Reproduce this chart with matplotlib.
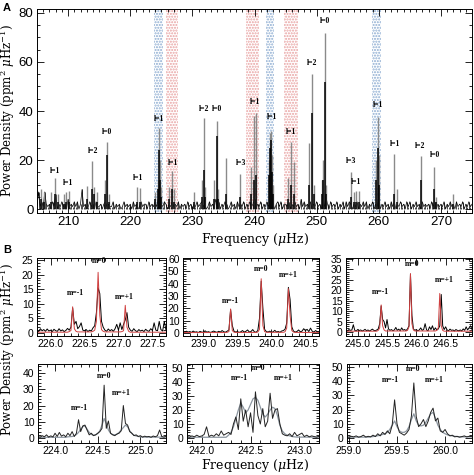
'''oscillation power spectrum with rotational splittings'''
import numpy as np
import matplotlib
matplotlib.use('Agg')
import matplotlib.pyplot as plt
from matplotlib.ticker import MultipleLocator, FormatStrFormatter

plt.rcParams['mathtext.fontset'] = 'dejavuserif'
plt.rcParams['font.family'] = 'Liberation Sans'

#%% data panel A
# noise floor, 0.25 muHz sampling, 205-275 muHz
noise_a = [int(c) for c in (
    "1713172120316021312041213130281201312031"
    "1202312113021201312120312013122031213142"
    "2132021312130212031202131231201312041302"
    "1320131203121302131240213021313120231302"
    "2130213120413121302131203152031213021303"
    "1320213021313021302150213120313021312031"
    "30213120312120313021213021312031213021312")]

peak_f = [205.6, 206.1, 207.3, 207.9, 208.3, 209.3, 209.7, 210.1, 213.1, 213.9,
          214.2, 214.7, 215.9, 216.3, 216.6, 221.1, 221.6, 224.0, 224.45, 224.6,
          224.75, 224.9, 226.3, 226.75, 227.1, 230.2, 231.6, 231.9, 232.1, 233.5,
          234.0, 234.2, 235.4, 237.7, 239.4, 239.85, 240.25, 242.4, 242.55, 242.65,
          242.8, 242.95, 245.4, 245.9, 246.4, 248.8, 249.3, 249.5, 250.8, 251.0,
          251.3, 251.55, 255.5, 256.0, 256.4, 256.8, 259.6, 259.8, 260.0, 262.5,
          263.0, 266.8, 268.9, 269.2, 272.0]
peak_gray = [8, 7, 7, 12.5, 6, 6, 7, 7.5, 9.5, 19.5,
             9, 7, 12, 27.5, 6, 9, 8.5, 7, 12, 33,
             20, 9, 9, 15.5, 8, 7, 12, 37, 9, 12,
             36, 8, 21, 14.5, 17, 38, 39, 20, 31, 32,
             22, 10, 12.5, 27.5, 19, 27, 55, 10, 12, 20,
             72, 10, 15, 7, 7.5, 7.5, 20, 37.5, 22, 22.5,
             8, 21.5, 17, 5, 6]
peak_black = [4, 3, 3, 6, 3, 2, 3, 3, 4, 8,
              6, 3, 6, 22, 3, 3, 3, 4, 8, 24,
              12, 5, 4, 8, 3, 3, 5, 16, 5, 4,
              30, 4, 6, 5, 6, 12, 14, 14, 25, 28,
              15, 6, 4, 10, 6, 10, 39, 6, 6, 12,
              52, 6, 5, 3, 3, 3, 12, 25, 10, 6,
              3, 12, 8, 3, 2]

lab_text = ['l=1', 'l=1', 'l=2', 'l=0', 'l=1', 'l=1', 'l=1', 'l=2', 'l=0', 'l=3', 'l=1',
            'l=1', 'l=1', 'l=2', 'l=0', 'l=3', 'l=1', 'l=1', 'l=1', 'l=2', 'l=0']
lab_f = [207.9, 210.0, 214.0, 216.3, 221.3, 224.6, 226.9, 231.9, 234.0, 237.8, 240.1,
         242.8, 245.9, 249.2, 251.3, 255.5, 256.3, 259.9, 262.6, 266.6, 269.0]
lab_y = [14, 9, 22, 30, 11, 35, 17, 39, 39, 17, 42,
         36, 30, 58, 75, 18, 9.5, 41, 25, 24, 20.5]

band_red = [(225.8, 227.7), (238.7, 240.7), (244.8, 247.0)]
band_blue = [(223.8, 225.3), (241.85, 243.2), (258.98, 260.28)]

#%% data panel B (0.025 muHz sampling)
tl_x0 = 225.8
tl_data = [1, 0.5, 1.5, 0.8, 1.2, 0.6, 1.4, 0.7, 1.0, 0.5,
           1.3, 0.8, 0.6, 1.5, 0.7, 1.1, 0.5, 0.9, 1.6, 1.0,
           2.0, 8.6, 3.0, 4.0, 1.5, 2.2, 3.5, 1.0, 0.8, 1.2,
           0.5, 1.0, 0.7, 1.8, 2.5, 7.0, 15.5, 13.5, 4.0, 2.0,
           1.0, 0.6, 1.4, 0.8, 1.2, 0.6, 1.5, 3.0, 1.0, 3.5,
           1.2, 3.0, 4.5, 7.0, 2.0, 1.0, 0.6, 1.5, 0.8, 0.5,
           1.2, 0.7, 1.0, 0.5, 1.3, 0.8, 0.6, 1.5, 0.9, 3.5,
           1.0, 0.8, 4.0, 1.2, 0.7, 4.0, 1.0]
tl_model = [0.3] * 19 + [0.5, 0.9, 9.0, 1.5, 0.6] + [0.4] * 9 + \
           [0.6, 1.0, 4.0, 20.8, 6.0, 1.2, 0.6] + [0.4] * 10 + \
           [0.5, 0.8, 9.5, 2.0, 0.6] + [0.3] * 22

tm_x0 = 238.7
tm_data = [1.0, 0.5, 1.5, 0.8, 1.2, 0.5, 1.6, 0.7, 1.0, 0.4,
           1.3, 0.8, 0.6, 1.8, 0.7, 1.1, 0.5, 0.9, 1.6, 1.0,
           0.6, 1.4, 0.8, 2.0, 1.0, 0.7, 1.5, 2.5, 19.0, 6.0,
           1.5, 0.8, 1.2, 0.5, 1.0, 2.0, 0.8, 1.4, 2.5, 0.8,
           1.2, 2.8, 1.0, 0.6, 2.0, 12.0, 42.0, 20.0, 3.0, 1.2,
           0.8, 1.5, 0.6, 1.0, 2.2, 0.8, 1.3, 0.6, 1.6, 2.0,
           3.0, 8.0, 37.0, 27.0, 5.0, 1.5, 0.8, 1.2, 2.5, 1.0,
           1.5, 3.5, 2.0, 3.0, 1.2, 4.0, 1.5, 0.8, 2.0, 1.0, 0.6]
tm_model = [0.4] * 26 + [0.6, 1.2, 19.5, 2.0, 0.7] + [0.5] * 13 + \
           [0.8, 3.0, 44.0, 6.0, 1.2] + [0.6] * 11 + \
           [1.0, 4.0, 36.0, 14.0, 2.0, 0.8] + [0.5] * 15

tr_x0 = 244.8
tr_data = [1.0, 0.5, 1.2, 0.8, 1.0, 3.5, 0.8, 0.5, 1.2, 0.7,
           1.0, 0.5, 0.8, 1.3, 0.6, 1.0, 0.5, 0.9, 1.4, 0.8,
           0.6, 1.0, 1.5, 4.0, 12.5, 6.0, 5.0, 2.0, 6.0, 1.5,
           0.8, 1.2, 0.6, 1.0, 2.2, 0.8, 1.4, 0.6, 2.0, 0.9,
           1.2, 0.7, 1.5, 3.0, 27.8, 8.0, 1.5, 0.8, 1.2, 0.6,
           1.0, 2.0, 0.8, 1.2, 4.0, 1.0, 0.6, 2.5, 1.2, 3.0,
           0.8, 2.0, 1.0, 1.5, 3.0, 18.0, 3.0, 1.2, 2.5, 1.0,
           0.6, 1.4, 0.8, 1.0, 0.5, 1.2, 0.8, 0.6, 1.0, 0.5,
           1.5, 0.8, 2.5, 1.0, 2.0, 3.0, 1.2, 2.5, 1.0]
tr_model = [0.4] * 22 + [0.8, 2.0, 13.0, 3.0, 1.0] + [0.5] * 15 + \
           [0.8, 2.5, 28.0, 4.0, 1.0] + [0.5] * 15 + \
           [0.8, 2.0, 18.5, 3.0, 0.8] + [0.4] * 22

bl_x0 = 223.8
bl_data = [1.0, 0.5, 1.5, 0.8, 2.0, 0.6, 1.4, 0.7, 3.0, 1.0,
           3.5, 1.2, 2.0, 0.8, 3.0, 1.5, 4.0, 1.0, 3.0, 11.3,
           4.0, 7.5, 8.0, 5.0, 2.0, 3.0, 1.5, 2.0, 3.0, 4.0,
           6.0, 32.5, 6.0, 10.5, 3.0, 2.0, 1.5, 2.5, 3.0, 4.5,
           20.0, 9.0, 8.0, 4.0, 3.0, 1.5, 2.0, 1.0, 1.5, 0.6,
           1.2, 0.8, 1.0, 0.5, 1.3, 0.8, 1.5, 5.0, 1.0, 0.6, 1.2]
bl_model = [0.5] * 14 + [0.8, 0.9, 1.0, 1.4, 2.2, 3.5, 5.5, 7.0, 7.5, 5.5,
                          3.5, 2.3, 1.8, 2.0, 2.8, 4.5, 8.0, 12.0, 9.0, 5.0,
                          3.0, 2.2, 2.0, 2.4, 3.5, 5.0, 6.5, 8.0, 7.0, 4.5,
                          2.8, 1.8, 1.3, 1.0, 0.8] + [0.6] * 12

bm_x0 = 241.85
bm_data = [1.0, 0.5, 1.5, 0.8, 2.0, 1.0, 1.4, 2.5, 8.0, 1.0,
           2.0, 1.2, 3.0, 1.5, 5.0, 2.0, 3.0, 4.0, 2.5, 10.0,
           15.0, 6.0, 28.0, 12.0, 20.0, 8.0, 18.0, 4.0, 33.0, 16.0,
           10.0, 21.0, 8.0, 12.0, 32.0, 14.0, 20.0, 21.0, 10.0, 3.0,
           2.0, 1.5, 3.0, 1.0, 4.0, 1.5, 2.5, 3.5, 1.0, 2.0,
           0.8, 1.5, 1.0, 0.6, 1.2]
bm_model = [0.5] * 17 + [2, 4, 8, 14, 20, 25, 22, 18, 20, 24, 28, 29, 27,
                          22, 17, 15, 17, 20, 22, 21, 16, 9, 5, 3, 2, 1.5,
                          1.0, 0.8] + [0.6] * 10

br_x0 = 258.975
br_data = [1.0, 0.5, 1.2, 0.8, 1.5, 0.6, 1.0, 2.0, 0.7, 1.2,
           0.8, 2.0, 1.0, 3.0, 1.5, 4.0, 2.5, 5.0, 3.0, 9.0,
           26.8, 10.0, 4.0, 3.0, 2.0, 3.5, 6.0, 15.5, 38.7, 15.0,
           8.0, 10.0, 13.0, 8.0, 12.0, 18.0, 21.0, 12.0, 14.0, 5.0,
           4.0, 6.0, 3.0, 1.5, 2.0, 0.8, 1.2, 0.6, 1.0, 1.5,
           0.8, 1.2, 1.0]
br_model = [0.6] * 10 + [0.8, 1.0, 1.3, 1.6, 2.0, 2.5, 3.0, 4.0, 6.0, 9.0,
                          12.0, 8.0, 5.0, 4.0, 4.0, 5.0, 8.0, 13.0, 17.0, 12.0,
                          9.0, 8.5, 9.0, 11.0, 14.0, 17.0, 18.0, 14.0, 9.0, 6.0,
                          4.0, 3.0, 2.2, 1.8, 1.5, 1.2, 1.0] + [0.8] * 6

m_text = ['m=-1', 'm=0', 'm=+1']
tl_lab = ([226.36, 226.71, 227.08], [12.4, 23.3, 10.9])
tm_lab = ([239.39, 239.85, 240.25], [22.4, 49, 44])
tr_lab = ([245.39, 245.92, 246.48], [17.2, 30.6, 23])
bl_lab = ([224.28, 224.58, 224.78], [16, 35.4, 25.5])
bm_lab = ([242.39, 242.58, 242.83], [40, 47, 40])
br_lab = ([259.43, 259.67, 259.89], [38, 46, 38])

#%% figure
W, H = 474, 475
fig = plt.figure(figsize=(W / 100, H / 100), dpi=100)


def px(l, t, r, b):
    return [l / W, 1 - b / H, (r - l) / W, (b - t) / H]


def style(ax, size):
    ax.tick_params(which='both', direction='in', top=True, right=True,
                   labelsize=size, width=0.6, pad=2.5)
    ax.tick_params(which='major', length=5)
    ax.tick_params(which='minor', length=2.5)
    for s in ax.spines.values():
        s.set_linewidth(0.7)


lab_font = dict(fontsize=5.5, family='Liberation Serif', fontweight='bold')

# panel A
ax = fig.add_axes(px(37, 9, 472, 213))
for a, b in band_red:
    ax.axvspan(a, b, facecolor='none', edgecolor='#e8a0a0', hatch='......', lw=0)
for a, b in band_blue:
    ax.axvspan(a, b, facecolor='none', edgecolor='#8aaad0', hatch='......', lw=0)
xn = np.linspace(205, 275, len(noise_a))
ax.vlines(xn, 0, noise_a, color='k', lw=0.5)
ax.plot(xn, noise_a, color='k', lw=0.5)
ax.vlines(peak_f, 0, peak_gray, color='#8a8a8a', lw=1.0)
ax.vlines(peak_f, 0, peak_black, color='k', lw=1.1)
for t, f, y in zip(lab_text, lab_f, lab_y):
    ax.text(f, y, t, ha='center', va='bottom', **lab_font)
ax.set_xlim(205, 275)
ax.set_ylim(-1.6, 81.6)
ax.xaxis.set_major_locator(MultipleLocator(10))
ax.xaxis.set_minor_locator(MultipleLocator(1))
ax.yaxis.set_major_locator(MultipleLocator(20))
ax.yaxis.set_minor_locator(MultipleLocator(5))
style(ax, 9.5)

# panel B
red, gry = '#d04040', '#8c96a0'
specs = [
    (px(37, 258, 166, 336), tl_x0, tl_data, tl_model, red, 'k', (225.8, 227.7), (-1.0, 25.7), 5, 1, tl_lab),
    (px(183, 258, 319, 336), tm_x0, tm_data, tm_model, red, 'k', (238.7, 240.7), (-2.4, 60.8), 10, 2, tm_lab),
    (px(346, 258, 472, 336), tr_x0, tr_data, tr_model, red, 'k', (244.8, 246.95), (-1.9, 35.5), 5, 1, tr_lab),
    (px(38, 364, 166, 443), bl_x0, bl_data, bl_model, gry, '#222222', (223.8, 225.3), (-3.0, 45.5), 10, 2, bl_lab),
    (px(187, 364, 319, 443), bm_x0, bm_data, bm_model, gry, '#222222', (241.85, 243.2), (-3.6, 52.9), 10, 2, bm_lab),
    (px(347, 364, 472, 443), br_x0, br_data, br_model, gry, '#222222', (258.98, 260.28), (-3.5, 52.0), 10, 2, br_lab),
]
for rect, x0, data, model, mcol, dcol, xl, yl, ymaj, ymin, lab in specs:
    bx = fig.add_axes(rect)
    xd = x0 + 0.025 * np.arange(len(data))
    xm = x0 + 0.025 * np.arange(len(model))
    if mcol == red:
        bx.plot(xd, data, color=dcol, lw=0.7)
        bx.plot(xm, model, color=mcol, lw=0.7)
    else:
        bx.plot(xm, model, color=mcol, lw=0.9)
        bx.plot(xd, data, color=dcol, lw=0.7)
    for t, f, y in zip(m_text, lab[0], lab[1]):
        bx.text(f, y, t, ha='center', va='bottom', **lab_font)
    bx.set_xlim(*xl)
    bx.set_ylim(*yl)
    bx.xaxis.set_major_locator(MultipleLocator(0.5))
    bx.xaxis.set_minor_locator(MultipleLocator(0.1))
    bx.yaxis.set_major_locator(MultipleLocator(ymaj))
    bx.yaxis.set_minor_locator(MultipleLocator(ymin))
    bx.xaxis.set_major_formatter(FormatStrFormatter('%.1f'))
    style(bx, 7.5)

ylab = 'Power Density (ppm$^2$ $\\mu$Hz$^{-1}$)'
xlab = 'Frequency ($\\mu$Hz)'
fig.text(8 / W, 1 - 111 / H, ylab, rotation=90, ha='center', va='center',
         fontsize=8.5, family='DejaVu Serif')
fig.text(8 / W, 1 - 350 / H, ylab, rotation=90, ha='center', va='center',
         fontsize=8.5, family='DejaVu Serif')
fig.text(255 / W, 1 - 240 / H, xlab, ha='center', va='center',
         fontsize=9, family='DejaVu Serif')
fig.text(255 / W, 1 - 465 / H, xlab, ha='center', va='center',
         fontsize=9, family='DejaVu Serif')
fig.text(3 / W, 1 - 3 / H, 'A', ha='left', va='top', fontsize=8, fontweight='bold')
fig.text(3 / W, 1 - 245 / H, 'B', ha='left', va='top', fontsize=8, fontweight='bold')

fig.savefig('out.png', dpi=100)
